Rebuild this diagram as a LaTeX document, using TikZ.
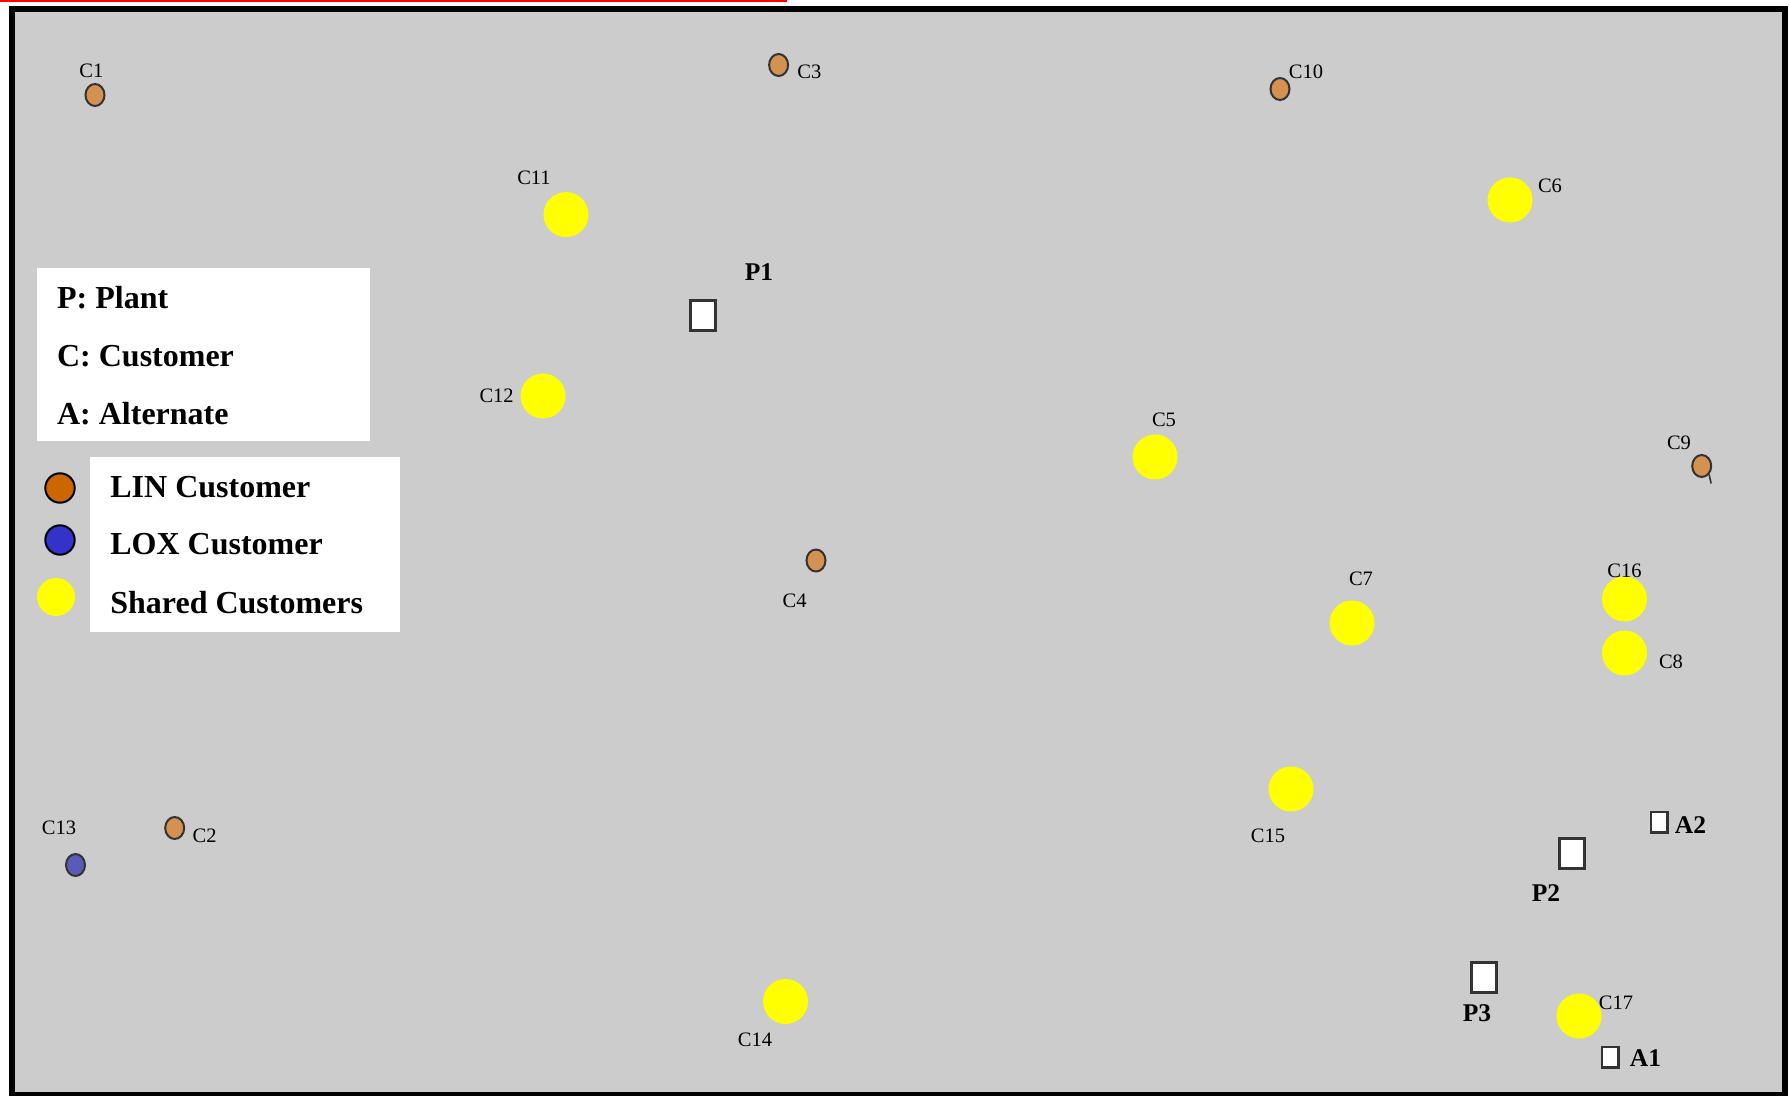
\documentclass[tikz,border=0pt]{standalone}
\usepackage{fontspec}
\setmainfont{Liberation Serif}
\usetikzlibrary{shapes.geometric, positioning}
\definecolor{mapgrey}{HTML}{CCCCCC}
\definecolor{linorange}{HTML}{CC6600}
\definecolor{linsoft}{HTML}{D4914F}
\definecolor{loxblue}{HTML}{3333CC}
\definecolor{loxsoft}{HTML}{5A5AB8}
\definecolor{shyellow}{HTML}{FFFF00}
\definecolor{edgegrey}{HTML}{333333}
\definecolor{topred}{HTML}{FF0000}

\begin{document}
\begin{tikzpicture}[x=0.5pt, y=-0.5pt,
    lin/.style={ellipse, draw=edgegrey, line width=1pt, fill=linsoft, minimum width=9.5pt, minimum height=11pt, inner sep=0pt},
    lox/.style={lin, fill=loxsoft},
    shared/.style={circle, fill=shyellow, minimum size=22.5pt, inner sep=0pt},
    plant/.style={rectangle, draw=edgegrey, line width=1.5pt, fill=white, minimum width=12.5pt, minimum height=15pt, inner sep=0pt},
    altsite/.style={plant, line width=1.2pt, minimum width=8.3pt, minimum height=10.3pt},
    clabel/.style={inner sep=0pt, font=\fontsize{10.25}{12}\selectfont},
    plabel/.style={inner sep=0pt, font=\fontsize{12.75}{15}\selectfont\bfseries},
    legtext/.style={inner sep=0pt, anchor=west, font=\fontsize{16}{19}\selectfont\bfseries},
    legdot/.style={circle, draw=black, line width=1pt, minimum size=14.7pt, inner sep=0pt}]
  \useasboundingbox (0,0) rectangle (1790,1096);
  \fill[white] (0,0) rectangle (1790,1096);
  % Marco
  \draw[topred, line width=1.15pt] (0,1.2) -- (787,1.2);
  \draw[line width=3pt, fill=mapgrey] (11.5,9) rectangle (1784.5,1095);

  % Leyenda
  \fill[white] (36.7,268) rectangle (370,441);
  \fill[white] (90,457) rectangle (400,632);
  \node[legtext] (legP) at (56.7,298) {P: Plant};
  \node[legtext] (legC) at (56.7,356) {C: Customer};
  \node[legtext] (legA) at (56.7,413.5) {A: Alternate};
  \node[legdot, fill=linorange] (legLinDot) at (60,488) {};
  \node[legdot, fill=loxblue] (legLoxDot) at (60,540) {};
  \node[circle, fill=shyellow, minimum size=19pt, inner sep=0pt] (legShDot) at (56,597) {};
  \node[legtext] (legLin) at (110,487.5) {LIN Customer};
  \node[legtext] (legLox) at (110,544) {LOX Customer};
  \node[legtext] (legSh) at (110,602.5) {Shared Customers};

  % Clientes LIN / LOX
  \node[lin] (c1) at (95,95) {};
  \node[lin] (c2) at (174.7,828) {};
  \node[lin] (c3) at (778.6,65) {};
  \node[lin] (c4) at (816,560.5) {};
  \node[lin] (c9) at (1701.7,466) {};
  \node[lin] (c10) at (1280,89) {};
  \node[lox] (c13) at (75.5,865) {};
  \draw[edgegrey, line width=0.8pt] (c9.south east) -- ++(2,9);

  % Clientes compartidos
  \node[shared] (c5) at (1155,457) {};
  \node[shared] (c6) at (1510,200) {};
  \node[shared] (c7) at (1352,623) {};
  \node[shared] (c8) at (1624.5,653) {};
  \node[shared] (c11) at (566,214.6) {};
  \node[shared] (c12) at (543,396) {};
  \node[shared] (c14) at (785.5,1001.5) {};
  \node[shared] (c15) at (1291,789) {};
  \node[shared] (c16) at (1624.5,599) {};
  \node[shared] (c17) at (1579,1016) {};

  % Plantas y alternas
  \node[plant] (p1) at (703,316) {};
  \node[plant] (p2) at (1572,853) {};
  \node[plant] (p3) at (1484,977) {};
  \node[altsite] (a1) at (1610,1057) {};
  \node[altsite] (a2) at (1659,822) {};

  % Etiquetas
  \node[clabel] (c1-l) at (91.3,70.8) {C1};
  \node[clabel] (c2-l) at (204.7,836) {C2};
  \node[clabel] (c3-l) at (809.4,71.9) {C3};
  \node[clabel] (c4-l) at (794.6,600.5) {C4};
  \node[clabel] (c5-l) at (1164,420) {C5};
  \node[clabel] (c6-l) at (1550,186) {C6};
  \node[clabel] (c7-l) at (1361,579) {C7};
  \node[clabel] (c8-l) at (1671,662) {C8};
  \node[clabel] (c9-l) at (1679,443) {C9};
  \node[clabel] (c10-l) at (1306,72) {C10};
  \node[clabel] (c11-l) at (534,178) {C11};
  \node[clabel] (c12-l) at (496.6,396) {C12};
  \node[clabel] (c13-l) at (59,828) {C13};
  \node[clabel] (c14-l) at (755,1040) {C14};
  \node[clabel] (c15-l) at (1268,835.6) {C15};
  \node[clabel] (c16-l) at (1624.5,571) {C16};
  \node[clabel] (c17-l) at (1616,1003) {C17};
  \node[plabel] (p1-l) at (759,272) {P1};
  \node[plabel] (p2-l) at (1546,893) {P2};
  \node[plabel] (p3-l) at (1477,1013) {P3};
  \node[plabel] (a1-l) at (1645.5,1058) {A1};
  \node[plabel] (a2-l) at (1690.5,825) {A2};
\end{tikzpicture}
\end{document}
